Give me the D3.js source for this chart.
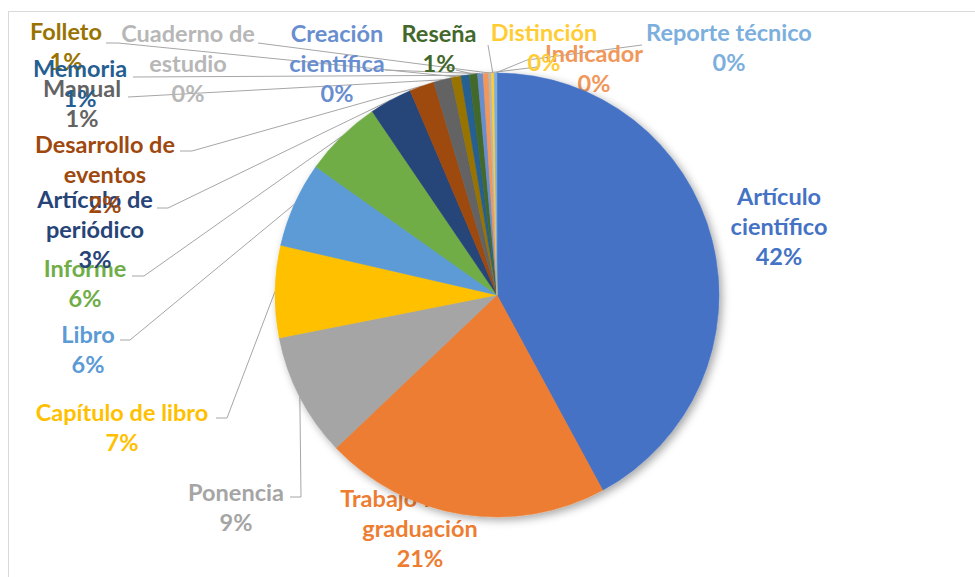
<!DOCTYPE html>
<html>
<head>
<meta charset="utf-8">
<script src="https://cdn.jsdelivr.net/npm/d3@7"></script>
<style>
  html, body { margin: 0; padding: 0; background: #fff; }
  svg text { font-family: Lato, "Liberation Sans", sans-serif; font-weight: 700; }
</style>
</head>
<body>
<svg id="chart" width="975" height="577"></svg>
<script>
// data (percent of total)
var categories = [
  "Artículo científico", "Trabajo final de graduación", "Ponencia", "Capítulo de libro",
  "Libro", "Informe", "Artículo de periódico", "Desarrollo de eventos", "Manual",
  "Folleto", "Memoria", "Reseña", "Creación científica", "Indicador",
  "Cuaderno de estudio", "Distinción", "Reporte técnico"
];
var values = [42.1, 20.8, 9.0, 6.7, 6.2, 5.7, 3.1, 1.8, 1.3, 0.7, 0.6, 0.6, 0.4, 0.4, 0.2, 0.2, 0.2];

// label text broken in lines the way excel wrapped them
var labelLines = [
  ["Artículo", "científico"], ["Trabajo final de", "graduación"], ["Ponencia"], ["Capítulo de libro"],
  ["Libro"], ["Informe"], ["Artículo de", "periódico"], ["Desarrollo de", "eventos"], ["Manual"],
  ["Folleto"], ["Memoria"], ["Reseña"], ["Creación", "científica"], ["Indicador"],
  ["Cuaderno de", "estudio"], ["Distinción"], ["Reporte técnico"]
];

// office palette
var colors = [
  "#4472C4", "#ED7D31", "#A5A5A5", "#FFC000", "#5B9BD5", "#70AD47", "#264478", "#9E480E",
  "#636363", "#997300", "#255E91", "#43682B", "#698ED0", "#F1975A", "#B7B7B7", "#FFCD33", "#7CAFDD"
];

// where excel dropped each label: center x, first baseline, leader start (+ elbow)
var labelPos = [
  { x: 779, y: 205 },
  { x: 420, y: 507 },
  { x: 236, y: 501, lead: [[290, 497], [301, 497]] },
  { x: 122, y: 421, lead: [[216, 418], [227, 418]] },
  { x: 88,  y: 343, lead: [[120, 340], [130, 340]] },
  { x: 85,  y: 277, lead: [[132, 276], [144, 276]] },
  { x: 95,  y: 208, lead: [[157, 208], [168, 208]] },
  { x: 105, y: 153, lead: [[180, 151], [192, 151]] },
  { x: 82,  y: 97,  lead: [[128, 97]] },
  { x: 66,  y: 40,  lead: [[106, 43], [118, 43]] },
  { x: 80,  y: 77,  lead: [[133, 77]] },
  { x: 439, y: 42,  lead: [[456, 70]] },
  { x: 337, y: 42,  lead: [[385, 70]] },
  { x: 594, y: 62,  lead: [[537, 67]] },
  { x: 188, y: 42,  lead: [[258, 43]] },
  { x: 544, y: 41,  lead: [[488, 45]] },
  { x: 729, y: 41,  lead: [[642, 45], [527, 60]] }
];

var width = 975, height = 577;
var cx = 497, cy = 295, radius = 222;
var lineH = 30;

var svg = d3.select("#chart");

// chart area border (excel frame, cut by the screenshot)
svg.append("rect")
  .attr("x", 8.5).attr("y", 11.5)
  .attr("width", width).attr("height", height)
  .attr("fill", "none")
  .attr("stroke", "#D9D9D9")
  .attr("stroke-width", 1);

// soft shadow under the pie
var defs = svg.append("defs");
var f = defs.append("filter").attr("id", "shadow")
  .attr("x", "-20%").attr("y", "-20%").attr("width", "140%").attr("height", "140%");
f.append("feDropShadow")
  .attr("dx", 3).attr("dy", 3)
  .attr("stdDeviation", 4)
  .attr("flood-color", "#000")
  .attr("flood-opacity", 0.35);

var data = categories.map(function(c, i) { return { name: c, value: values[i], i: i }; });
var total = d3.sum(values);

var pie = d3.pie().sort(null).value(function(d) { return d.value; });
var arcs = pie(data);

var arc = d3.arc().innerRadius(0).outerRadius(radius);
var edge = d3.arc().innerRadius(radius).outerRadius(radius);

var g = svg.append("g").attr("transform", "translate(" + cx + "," + cy + ")");

// leader lines, under the pie so they stop at its rim
var line = d3.line();
g.append("g").selectAll("path")
  .data(arcs.filter(function(d) { return labelPos[d.data.i].lead; }))
  .join("path")
  .attr("fill", "none")
  .attr("stroke", "#A6A6A6")
  .attr("stroke-width", 1)
  .attr("d", function(d) {
    var pts = labelPos[d.data.i].lead.map(function(p) { return [p[0] - cx, p[1] - cy]; });
    pts.push(edge.centroid(d));
    return line(pts);
  });

// labels (drawn in series order, later ones end up on top like in excel)
var labels = svg.append("g").selectAll("text")
  .data(arcs)
  .join("text")
  .attr("text-anchor", "middle")
  .attr("font-size", 23.5)
  .attr("fill", function(d) { return colors[d.data.i]; });

labels.each(function(d) {
  var t = d3.select(this);
  var p = labelPos[d.data.i];
  var lines = labelLines[d.data.i].concat([Math.round(d.data.value / total * 100) + "%"]);
  lines.forEach(function(s, k) {
    t.append("tspan").attr("x", p.x).attr("y", p.y + k * lineH).text(s);
  });
});

// the pie itself sits on top of everything (it hides part of the graduación label)
var pieG = svg.append("g")
  .attr("transform", "translate(" + cx + "," + cy + ")")
  .attr("filter", "url(#shadow)");

pieG.selectAll("path")
  .data(arcs)
  .join("path")
  .attr("d", arc)
  .attr("fill", function(d) { return colors[d.data.i]; })
  .attr("stroke", function(d) { return colors[d.data.i]; })
  .attr("stroke-width", 0.5);
</script>
</body>
</html>
